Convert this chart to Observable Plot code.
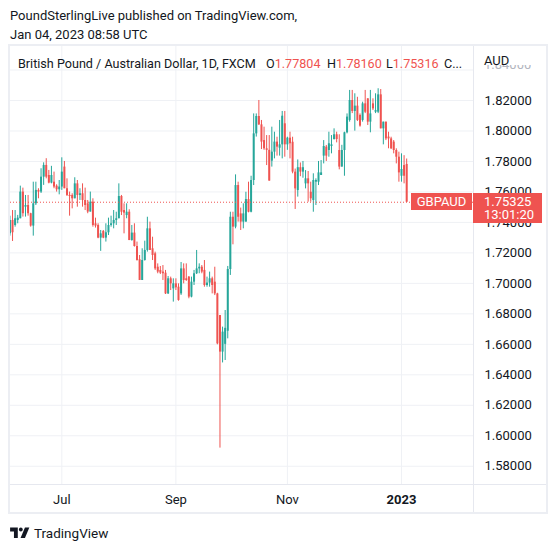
<!DOCTYPE html>
<html><head><meta charset="utf-8">
<script src="https://cdn.jsdelivr.net/npm/d3@7"></script>
<script src="https://cdn.jsdelivr.net/npm/@observablehq/plot@0.6"></script>
<style>
body{margin:0;background:#fff;font-family:Roboto,"Noto Sans",sans-serif;color:#131722;}
#page{position:relative;width:557px;height:547px;overflow:hidden;background:#fff;}
.t{position:absolute;white-space:nowrap;font-size:13px;line-height:16px;color:#131722;}
#frame{position:absolute;left:8px;top:44px;width:540px;height:470px;border:2px solid #eceef3;box-sizing:border-box;}
.sep{position:absolute;background:#e6e8ef;}
.hdr{position:absolute;top:56px;white-space:nowrap;font-size:12.6px;line-height:16px;color:#131722;}
.red{color:#ef5350;}
.box{position:absolute;background:#ef5350;color:#fff;font-size:13px;white-space:nowrap;}
</style></head><body>
<div id="page">
  <div class="t" style="left:10px;top:8px">PoundSterlingLive published on TradingView.com,</div>
  <div class="t" style="left:10px;top:27px">Jan 04, 2023 08:58 UTC</div>
  <div id="frame"></div>
  <div id="chart" style="position:absolute;left:0;top:46px;"></div>
  <div class="sep" style="left:473px;top:46px;width:1px;height:466px;"></div>
  <div class="sep" style="left:10px;top:484px;width:536px;height:1px;"></div>
  <div id="hdr"></div>
  <div id="lbl"></div>
  <svg style="position:absolute;left:10px;top:527px" width="20" height="11" viewBox="0 0 36 20">
    <path d="M14 20H7V8H0V1h14z" fill="#131722"/>
    <circle cx="19.5" cy="4.5" r="3.5" fill="#131722"/>
    <path d="M27 20h-8l8-19h8z" fill="#131722"/>
  </svg>
  <div class="t" style="left:34px;top:524px;font-size:13.5px;line-height:18px;">TradingView</div>
</div>
<script>
const symbolName = "British Pound / Australian Dollar, 1D, FXCM";
const pairLabel = "GBPAUD";
const currency = "AUD";
const countdown = "13:01:20";
const startDate = "2022-06-03";
const open = [
1.7325,1.7413,1.7380,1.7413,1.7424,1.7599,1.7500,1.7511,1.7457,1.7376,
1.7522,1.7610,1.7599,1.7697,1.7774,1.7708,1.7658,1.7664,1.7638,1.7614,
1.7632,1.7763,1.7621,1.7577,1.7577,1.7555,1.7653,1.7577,1.7588,1.7544,
1.7522,1.7468,1.7533,1.7391,1.7380,1.7297,1.7341,1.7297,1.7332,1.7380,
1.7391,1.7413,1.7424,1.7570,1.7478,1.7445,1.7467,1.7281,1.7330,1.7242,
1.7155,1.7019,1.7150,1.7216,1.7358,1.7227,1.7194,1.7106,1.7085,1.7074,
1.7067,1.6931,1.7030,1.6964,1.6997,1.6975,1.6931,1.7095,1.7030,
1.7041,1.6910,1.7008,1.7063,1.7095,1.7106,1.7085,1.6986,1.7002,1.7030,
1.7008,1.6931,1.6789,1.6549,1.6600,1.6686,1.7091,1.7434,1.7369,1.7642,
1.7456,1.7402,1.7402,1.7550,1.7467,1.7675,1.7981,1.8095,1.8040,1.7937,
1.7883,1.7873,1.7802,1.7861,1.7927,1.7887,1.7909,1.8047,1.7909,1.7953,
1.7926,1.7730,1.7609,1.7759,1.7730,1.7653,1.7686,1.7598,1.7544,1.7664,
1.7664,1.7708,1.7835,1.7894,1.7872,1.7898,1.7944,1.7975,1.7872,
1.7763,1.7872,1.7988,1.8069,1.8200,1.8128,1.8163,1.8102,1.8069,1.8178,
1.8211,1.8058,1.8178,1.8123,1.8123,1.8237,1.8014,1.8058,1.7960,1.7948,
1.7927,1.7872,1.7828,1.7703,1.7773,1.77804];
const high = [
1.7441,1.7478,1.7478,1.7446,1.7638,1.7625,1.7577,1.7577,1.7460,1.7664,
1.7664,1.7621,1.7752,1.7791,1.7818,1.7741,1.7768,1.7730,1.7647,1.7675,
1.7824,1.7800,1.7686,1.7599,1.7588,1.7693,1.7675,1.7621,1.7653,1.7625,
1.7544,1.7599,1.7555,1.7428,1.7391,1.7347,1.7347,1.7391,1.7428,1.7441,
1.7478,1.7467,1.7653,1.7577,1.7522,1.7522,1.7483,1.7380,1.7391,1.7271,
1.7183,1.7227,1.7277,1.7434,1.7402,1.7303,1.7205,1.7128,1.7111,1.7117,
1.7085,1.7045,1.7041,1.7030,1.7030,1.6997,1.7137,1.7128,1.7128,
1.7045,1.7041,1.7085,1.7216,1.7128,1.7117,1.7150,1.7041,1.7074,1.7041,
1.7106,1.6935,1.6789,1.6713,1.6822,1.7111,1.7467,1.7467,1.7712,1.7664,
1.7494,1.7522,1.7598,1.7664,1.7703,1.8112,1.8112,1.8200,1.8069,1.8025,
1.7970,1.7970,1.8025,1.7992,1.7959,1.8069,1.8128,1.8128,1.7959,1.7992,
1.7959,1.7750,1.7810,1.7790,1.7800,1.7740,1.7734,1.7664,1.7719,1.7686,
1.7800,1.7806,1.7937,1.7905,1.7992,1.7970,1.8014,1.7992,1.7975,
1.7906,1.7992,1.8112,1.8266,1.8266,1.8244,1.8221,1.8112,1.8189,1.8266,
1.8211,1.8266,1.8211,1.8244,1.8277,1.8272,1.8058,1.8058,1.7992,1.7959,
1.7937,1.7883,1.7861,1.7850,1.7838,1.78160];
const low = [
1.7310,1.7275,1.7369,1.7391,1.7424,1.7435,1.7435,1.7441,1.7369,1.7310,
1.7511,1.7555,1.7590,1.7643,1.7686,1.7653,1.7653,1.7621,1.7599,1.7581,
1.7610,1.7621,1.7570,1.7441,1.7489,1.7555,1.7500,1.7544,1.7500,1.7478,
1.7457,1.7468,1.7369,1.7363,1.7293,1.7210,1.7293,1.7271,1.7314,1.7369,
1.7358,1.7380,1.7424,1.7445,1.7325,1.7424,1.7281,1.7277,1.7238,1.7146,
1.7019,1.7019,1.7146,1.7205,1.7216,1.7150,1.7085,1.7063,1.7058,1.7019,
1.6927,1.6927,1.6953,1.6877,1.6953,1.6883,1.6921,1.6997,1.7013,
1.6899,1.6905,1.6986,1.7058,1.7063,1.7063,1.6975,1.6975,1.6975,1.6931,
1.6920,1.6597,1.5919,1.6478,1.6494,1.6636,1.7052,1.7253,1.7358,1.7402,
1.7347,1.7358,1.7402,1.7463,1.7463,1.7642,1.7960,1.8036,1.7878,1.7873,
1.7773,1.7671,1.7763,1.7817,1.7835,1.7835,1.7817,1.7828,1.7873,1.7817,
1.7719,1.7485,1.7566,1.7700,1.7690,1.7620,1.7533,1.7533,1.7467,1.7511,
1.7642,1.7708,1.7784,1.7800,1.7828,1.7850,1.7940,1.7922,1.7745,
1.7763,1.7703,1.7981,1.8058,1.8114,1.7999,1.8062,1.8025,1.8058,1.8114,
1.8036,1.7988,1.8134,1.8114,1.8114,1.8014,1.7909,1.7937,1.7883,1.7878,
1.7850,1.7784,1.7664,1.7664,1.7653,1.75316];
const close = [
1.7413,1.7332,1.7424,1.7428,1.7599,1.7457,1.7511,1.7457,1.7376,1.7522,
1.7610,1.7599,1.7697,1.7774,1.7697,1.7658,1.7708,1.7632,1.7614,1.7632,
1.7730,1.7621,1.7577,1.7570,1.7555,1.7653,1.7577,1.7588,1.7544,1.7511,
1.7468,1.7533,1.7380,1.7376,1.7297,1.7325,1.7297,1.7332,1.7380,1.7391,
1.7413,1.7424,1.7570,1.7467,1.7461,1.7467,1.7281,1.7330,1.7242,1.7150,
1.7019,1.7150,1.7216,1.7358,1.7216,1.7183,1.7095,1.7074,1.7067,1.7063,
1.6931,1.7030,1.6997,1.6997,1.6971,1.6888,1.7095,1.7019,1.7019,
1.6910,1.7008,1.7063,1.7095,1.7106,1.7074,1.6986,1.7002,1.7030,1.6986,
1.6931,1.6603,1.6549,1.6680,1.6705,1.7091,1.7434,1.7369,1.7642,1.7434,
1.7402,1.7456,1.7550,1.7467,1.7675,1.7981,1.8095,1.8040,1.7927,1.7883,
1.7873,1.7671,1.7861,1.7927,1.7894,1.7909,1.8097,1.7909,1.7953,1.7916,
1.7730,1.7620,1.7759,1.7730,1.7759,1.7686,1.7653,1.7555,1.7675,1.7675,
1.7725,1.7725,1.7898,1.7835,1.7916,1.7909,1.7975,1.7944,1.7763,
1.7872,1.7988,1.8091,1.8200,1.8128,1.8163,1.8069,1.8032,1.8178,1.8123,
1.8058,1.8112,1.8145,1.8134,1.8237,1.8014,1.8058,1.7948,1.7948,1.7883,
1.7872,1.7828,1.7725,1.7747,1.7703,1.75325];
const yTicks = [1.58,1.60,1.62,1.64,1.66,1.68,1.70,1.72,1.74,1.76,1.78,1.80,1.82,1.84];
const tickDates = ["2022-07-01","2022-09-01","2022-11-01","2023-01-02"];
const tickLabels = ["Jul","Sep","Nov","2023"];

const teal = "#26a69a", red = "#ef5350";
const N = close.length;
const start = new Date(startDate + "T00:00:00Z");
const iso = d3.utcFormat("%Y-%m-%d");
const days = d3.utcDays(start, d3.utcDay.offset(start, 400))
  .filter(d => d.getUTCDay() !== 0 && d.getUTCDay() !== 6).slice(0, N);
const bars = close.map((c, i) => ({i, date: days[i], o: open[i], h: high[i], l: low[i], c,
  lo: Math.min(open[i], c), hi: Math.max(open[i], c), up: c >= open[i]}));
const ticks = tickDates.map((t, k) => ({i: days.findIndex(d => iso(d) === t), label: tickLabels[k], bold: /^\d{4}$/.test(tickLabels[k])}));
const labelOf = new Map(ticks.map(t => [t.i, t.label]));
const last = bars[N - 1];

const chart = Plot.plot({
  width: 557, height: 466,
  marginTop: 0, marginBottom: 28, marginLeft: 10, marginRight: 84,
  x: {domain: [0.216, 178.77], label: null},
  y: {domain: [1.56803, 1.85543], label: null},
  style: {fontFamily: "Roboto, sans-serif", fontSize: "13px", color: "#131722", background: "transparent", overflow: "visible"},
  marks: [
    Plot.gridY(yTicks, {stroke: "#eff1f5", strokeOpacity: 1}),
    Plot.gridX(ticks.map(t => t.i), {stroke: "#eff1f5", strokeOpacity: 1}),
    Plot.axisY(yTicks.filter(v => v < 1.83), {anchor: "right", tickSize: 0, tickPadding: 11, tickFormat: d => d.toFixed(5), label: null}),
    Plot.axisX(ticks.filter(t => !t.bold).map(t => t.i), {anchor: "bottom", tickSize: 0, tickPadding: 10, tickFormat: i => labelOf.get(i), label: null}),
    Plot.axisX(ticks.filter(t => t.bold).map(t => t.i), {anchor: "bottom", tickSize: 0, tickPadding: 10, tickFormat: i => labelOf.get(i), fontWeight: "bold", label: null}),
    Plot.ruleX(bars.filter(d => d.up), {x: "i", y1: "l", y2: "h", stroke: teal, strokeWidth: 1, clip: true}),
    Plot.ruleX(bars.filter(d => !d.up), {x: "i", y1: "l", y2: "h", stroke: red, strokeWidth: 1, clip: true}),
    Plot.ruleX(bars.filter(d => d.up), {x: "i", y1: "lo", y2: "hi", stroke: teal, strokeWidth: 2, clip: true}),
    Plot.ruleX(bars.filter(d => !d.up), {x: "i", y1: "lo", y2: "hi", stroke: red, strokeWidth: 2, clip: true}),
    Plot.ruleY([last.c], {stroke: red, strokeWidth: 1, strokeDasharray: "1,2"})
  ]
});
document.getElementById("chart").appendChild(chart);

// header legend
const f = v => v.toFixed(5);
document.getElementById("hdr").innerHTML =
  `<div class="hdr" style="left:18px">${symbolName}</div>` +
  `<div class="hdr" style="left:266px">O<span class="red">${f(last.o)}</span></div>` +
  `<div class="hdr" style="left:327px">H<span class="red">${f(last.h)}</span></div>` +
  `<div class="hdr" style="left:386px">L<span class="red">${f(last.l)}</span></div>` +
  `<div class="hdr" style="left:444px">C...</div>`;

// last price labels, axis currency and the partly hidden top tick label
const yPix = chart.scale("y").apply(last.c) + 46;
const topTick = chart.scale("y").apply(yTicks[yTicks.length - 1]) + 46;
document.getElementById("lbl").innerHTML =
  `<div style="position:absolute;left:484px;top:${topTick - 5}px;height:5px;overflow:hidden;font-size:13px;line-height:16px;color:#b2b5be;"><div style="margin-top:-8px">${yTicks[yTicks.length-1].toFixed(5)}</div></div>` +
  `<div style="position:absolute;left:484px;top:54px;font-size:13px;line-height:14px;color:#131722;">${currency}</div>` +
  `<div class="box" style="left:411px;top:${yPix - 8.5}px;width:61px;height:17px;line-height:17px;text-align:center;">${pairLabel}</div>` +
  `<div class="box" style="left:473px;top:${yPix - 8.5}px;width:69px;height:30px;padding-left:11px;box-sizing:border-box;line-height:13.5px;padding-top:1.5px;">${f(last.c)}<br>${countdown}</div>`;
</script>
</body></html>
